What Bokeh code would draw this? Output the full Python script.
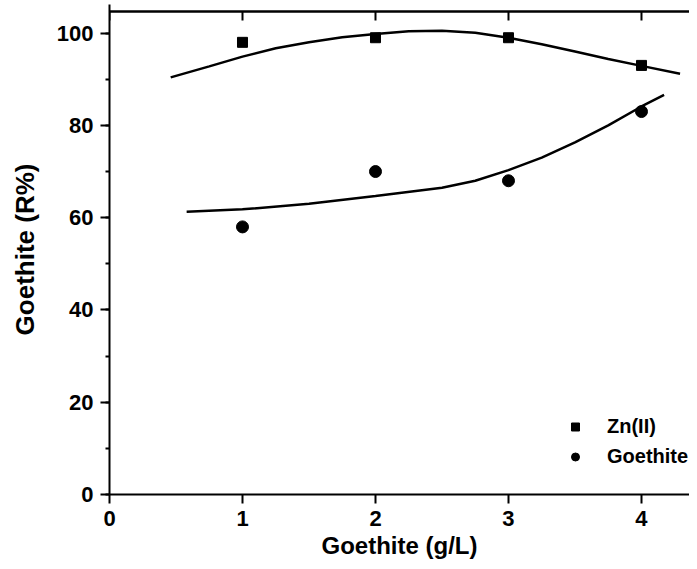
from bokeh.plotting import figure
from bokeh.models import (Range1d, SingleIntervalTicker, FixedTicker,
                          Legend, LegendItem, Span)
from bokeh.embed import file_html
from bokeh.resources import INLINE

# Measured data
dose = [1, 2, 3, 4]
zn_removal = [98, 99, 99, 93]
goethite_removal = [58, 70, 68, 83]

# Fitted curves
zn_fit_x = [0.46, 0.75, 1.0, 1.25, 1.5, 1.75, 2.0, 2.25, 2.5, 2.75, 3.0, 3.25, 3.5, 3.75, 4.0, 4.29]
zn_fit_y = [90.4, 92.8, 94.9, 96.7, 98.0, 99.1, 99.8, 100.4, 100.5, 100.1, 99.0, 97.6, 96.0, 94.4, 92.9, 91.2]
go_fit_x = [0.58, 1.0, 1.5, 2.0, 2.5, 2.75, 3.0, 3.25, 3.5, 3.75, 4.0, 4.17]
go_fit_y = [61.3, 61.8, 63.0, 64.7, 66.5, 68.0, 70.3, 73.0, 76.3, 80.0, 84.1, 86.6]

x_ticks = [0, 1, 2, 3, 4]
x_max = 4.361
y_top = 104.7          # top frame line of the original chart
y_pad = 1.5            # headroom so the top line sits well inside the frame
tick_len = 1.95        # inward tick length on the top frame line (in y units, ~9px)

FONT = "Liberation Sans"

p = figure(width=689, height=561, output_backend="svg", toolbar_location=None,
           x_range=Range1d(0, x_max), y_range=Range1d(0, y_top + y_pad),
           min_border_left=109, min_border_right=0, min_border_top=4, min_border_bottom=65,
           x_axis_label="Goethite (g/L)", y_axis_label="Goethite (R%)")
p.title.visible = False
p.outline_line_color = None
p.xgrid.visible = False
p.ygrid.visible = False
p.background_fill_color = "white"
p.border_fill_color = "white"

for ax in (p.xaxis[0], p.yaxis[0]):
    ax.axis_line_width = 2
    ax.axis_line_color = "black"
    ax.major_tick_line_width = 2
    ax.minor_tick_line_width = 2
    ax.major_tick_line_color = "black"
    ax.minor_tick_line_color = "black"
    ax.major_tick_in = 0
    ax.major_tick_out = 9
    ax.minor_tick_in = 0
    ax.minor_tick_out = 4
    ax.major_label_text_font = FONT
    ax.major_label_text_font_style = "bold"
    ax.major_label_text_font_size = "22px"
    ax.major_label_text_color = "black"
    ax.axis_label_text_font = FONT
    ax.axis_label_text_font_style = "bold"
    ax.axis_label_text_color = "black"
    ax.major_label_standoff = 7

p.xaxis[0].ticker = FixedTicker(ticks=x_ticks)
p.xaxis[0].minor_tick_out = 0
p.xaxis[0].axis_label_standoff = 3
p.xaxis[0].axis_label_text_font_size = "24px"
p.yaxis[0].ticker = SingleIntervalTicker(interval=20, num_minor_ticks=2)
p.yaxis[0].axis_label_standoff = 14
p.yaxis[0].axis_label_text_font_size = "26px"

# top frame line with inward ticks (mirror of the bottom axis)
p.line([0, x_max], [y_top, y_top], line_color="black", line_width=2.5)
p.segment(x0=x_ticks, y0=[y_top] * len(x_ticks), x1=x_ticks,
          y1=[y_top - tick_len] * len(x_ticks), line_color="black", line_width=2)

p.line(zn_fit_x, zn_fit_y, line_width=2.5, line_color="black")
p.line(go_fit_x, go_fit_y, line_width=2.5, line_color="black")
sq = p.scatter(dose, zn_removal, marker="square", size=10, fill_color="black", line_color="black")
ci = p.scatter(dose, goethite_removal, marker="circle", size=12, fill_color="black", line_color="black")

legend = Legend(items=[LegendItem(label="Zn(II)", renderers=[sq]),
                       LegendItem(label="Goethite", renderers=[ci])],
                location=(456, 26), border_line_color=None, background_fill_alpha=0,
                padding=0, margin=0, spacing=7, glyph_width=20, glyph_height=21,
                label_height=21, label_standoff=22,
                label_text_font=FONT, label_text_font_style="bold",
                label_text_font_size="20px", label_text_color="black")
p.add_layout(legend)

open("out.html", "w").write(file_html(p, INLINE))
